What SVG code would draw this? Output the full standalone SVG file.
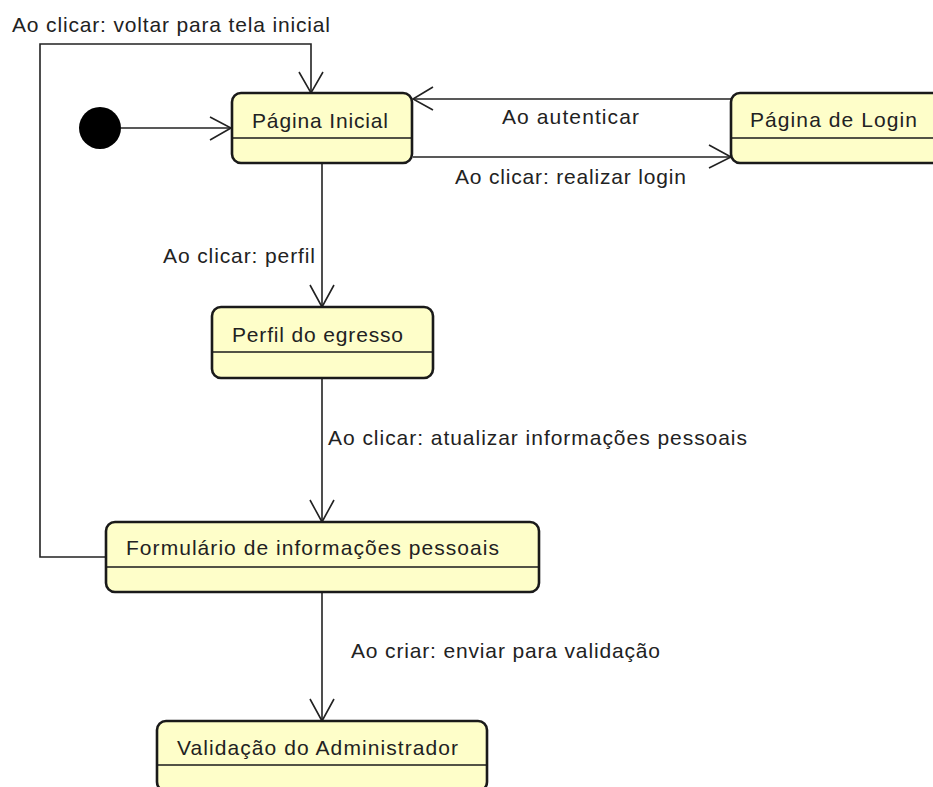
<svg xmlns="http://www.w3.org/2000/svg" width="933" height="787" viewBox="0 0 933 787">
  <style>
    .state rect { fill: #fefec9; stroke: #1a1a1a; stroke-width: 2.6; }
    .state line { stroke: #1a1a1a; stroke-width: 1.5; }
    text { font-family: "Liberation Sans", Arial, sans-serif; font-size: 21px; fill: #222; }
    .edge { fill: none; stroke: #222; stroke-width: 1.6; }
    .head { fill: none; stroke: #222; stroke-width: 1.6; stroke-linejoin: miter; }
  </style>
  <rect width="933" height="787" fill="#ffffff"/>

  <!-- transitions -->
  <g id="connectors">
    <!-- initial pseudo-state to Página Inicial -->
    <line class="edge" x1="121" y1="128" x2="231" y2="128"/>
    <polyline class="head" points="210,117 231,128 210,140"/>

    <!-- loop back from Formulário to Página Inicial -->
    <polyline class="edge" points="106,557 40,557 40,44 311,44 311,93"/>
    <polyline class="head" points="299,72 311,93 323,72"/>
    <text x="12" y="32" textLength="318" lengthAdjust="spacing">Ao clicar: voltar para tela inicial</text>

    <!-- Login to Página Inicial -->
    <line class="edge" x1="731" y1="99" x2="413" y2="99"/>
    <polyline class="head" points="433,87 413,99 433,110"/>
    <text x="502" y="124" textLength="137" lengthAdjust="spacing">Ao autenticar</text>

    <!-- Página Inicial to Login -->
    <line class="edge" x1="413" y1="157" x2="731" y2="157"/>
    <polyline class="head" points="709,145 731,157 709,168"/>
    <text x="455" y="184" textLength="231" lengthAdjust="spacing">Ao clicar: realizar login</text>

    <!-- Página Inicial to Perfil -->
    <line class="edge" x1="322" y1="164" x2="322" y2="307"/>
    <polyline class="head" points="310,285 322,307 334,285"/>
    <text x="163" y="263" textLength="152" lengthAdjust="spacing">Ao clicar: perfil</text>

    <!-- Perfil to Formulário -->
    <line class="edge" x1="322" y1="378" x2="322" y2="522"/>
    <polyline class="head" points="310,500 322,522 334,500"/>
    <text x="328" y="445" textLength="419" lengthAdjust="spacing">Ao clicar: atualizar informações pessoais</text>

    <!-- Formulário to Validação -->
    <line class="edge" x1="322" y1="592" x2="322" y2="721"/>
    <polyline class="head" points="310,699 322,721 334,699"/>
    <text x="351" y="658" textLength="309" lengthAdjust="spacing">Ao criar: enviar para validação</text>
  </g>

  <!-- initial pseudo-state -->
  <g id="initial">
    <circle cx="100" cy="128" r="21" fill="#000"/>
  </g>

  <g id="pagina-inicial" class="state">
    <rect x="232" y="93" width="180" height="70" rx="9"/>
    <line x1="232" y1="138" x2="412" y2="138"/>
    <text x="252" y="128" textLength="136" lengthAdjust="spacing">Página Inicial</text>
  </g>

  <g id="pagina-login" class="state">
    <rect x="731" y="93" width="220" height="70" rx="9"/>
    <line x1="731" y1="138" x2="951" y2="138"/>
    <text x="750" y="127" textLength="167" lengthAdjust="spacing">Página de Login</text>
  </g>

  <g id="perfil-egresso" class="state">
    <rect x="212" y="307" width="221" height="71" rx="9"/>
    <line x1="212" y1="352" x2="433" y2="352"/>
    <text x="232" y="342" textLength="171" lengthAdjust="spacing">Perfil do egresso</text>
  </g>

  <g id="formulario" class="state">
    <rect x="106" y="522" width="433" height="70" rx="9"/>
    <line x1="106" y1="567" x2="539" y2="567"/>
    <text x="126" y="555" textLength="373" lengthAdjust="spacing">Formulário de informações pessoais</text>
  </g>

  <g id="validacao-admin" class="state">
    <rect x="157" y="721" width="330" height="70" rx="9"/>
    <line x1="157" y1="765" x2="487" y2="765"/>
    <text x="177" y="755" textLength="281" lengthAdjust="spacing">Validação do Administrador</text>
  </g>
</svg>
